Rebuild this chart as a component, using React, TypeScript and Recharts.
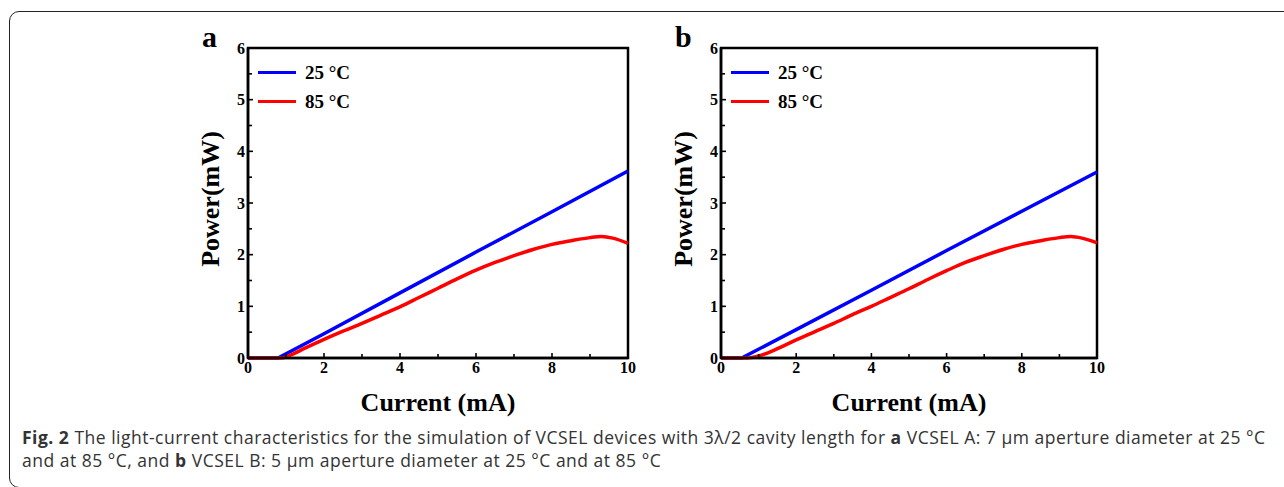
import { LineChart, Line, XAxis, YAxis, Legend, ReferenceArea } from "recharts";

// Panel a: VCSEL A, 7 µm aperture
const currentA25 = [0, 0.79, 2, 4, 6, 8, 10];
const powerA25 = [0, 0, 0.47, 1.26, 2.05, 2.83, 3.62];
const currentA85 = [0, 0.9, 1.1, 1.5, 2, 2.5, 3, 3.5, 4, 4.5, 5, 5.5, 6, 6.5, 7, 7.5, 8, 8.5, 9, 9.3, 9.6, 10];
const powerA85 = [0, 0, 0.05, 0.19, 0.36, 0.52, 0.67, 0.83, 0.99, 1.17, 1.35, 1.53, 1.7, 1.85, 1.98, 2.1, 2.2, 2.27, 2.33, 2.35, 2.32, 2.22];

// Panel b: VCSEL B, 5 µm aperture
const currentB25 = [0, 0.55, 2, 4, 6, 8, 10];
const powerB25 = [0, 0, 0.55, 1.31, 2.08, 2.84, 3.6];
const currentB85 = [0, 0.7, 1, 1.25, 1.5, 2, 2.5, 3, 3.5, 4, 4.5, 5, 5.5, 6, 6.5, 7, 7.5, 8, 8.5, 9, 9.3, 9.6, 10];
const powerB85 = [0, 0, 0.04, 0.1, 0.18, 0.35, 0.51, 0.67, 0.84, 1.0, 1.17, 1.34, 1.52, 1.69, 1.85, 1.98, 2.1, 2.2, 2.27, 2.33, 2.35, 2.32, 2.23];

const xTicks = [0, 1, 2, 3, 4, 5, 6, 7, 8, 9, 10];
const yTicks = [0, 0.5, 1, 1.5, 2, 2.5, 3, 3.5, 4, 4.5, 5, 5.5, 6];
const seriesNames = ["25 °C", "85 °C"];

const SERIF = "'Liberation Serif', 'Times New Roman', serif";
const X_GAP = 4;
const Y_GAP = 3;

const toPoints = (xs: number[], ys: number[]) => xs.map((x, i) => ({ current: x, power: ys[i] }));

const XTick = ({ x, y, payload }: any) => {
  const v = payload.value;
  const major = v % 2 === 0;
  const axisY = y - X_GAP;
  return (
    <g>
      <line x1={x} x2={x} y1={axisY} y2={axisY - (major ? 5 : 4)} stroke="#000" strokeWidth={1.6} />
      {major && (
        <text x={x} y={y} dy="0.71em" textAnchor="middle" fontFamily={SERIF} fontWeight="bold" fontSize={16} fill="#000">
          {v}
        </text>
      )}
    </g>
  );
};

const YTick = ({ x, y, payload }: any) => {
  const v = payload.value;
  const major = Number.isInteger(v);
  const axisX = x + Y_GAP;
  return (
    <g>
      <line x1={axisX} x2={axisX + (major ? 5 : 4)} y1={y} y2={y} stroke="#000" strokeWidth={1.6} />
      {major && (
        <text x={x} y={y} dy="0.36em" textAnchor="end" fontFamily={SERIF} fontWeight="bold" fontSize={16} fill="#000">
          {v}
        </text>
      )}
    </g>
  );
};

const renderLegend = ({ payload }: any) => (
  <div>
    {(payload ?? []).map((item: any) => (
      <div key={item.value} style={{ display: "flex", alignItems: "center", height: 29 }}>
        <span style={{ display: "inline-block", width: 38, height: 3.5, background: item.color, marginRight: 9 }} />
        <span style={{ fontFamily: SERIF, fontWeight: "bold", fontSize: 19, color: "#000" }}>{item.value}</span>
      </div>
    ))}
  </div>
);

type PanelProps = {
  letter: string;
  left: number;
  rightMargin: number;
  warm: { current: number; power: number }[];
  hot: { current: number; power: number }[];
};

function LIPanel({ letter, left, rightMargin, warm, hot }: PanelProps) {
  return (
    <div style={{ position: "absolute", left, top: 20 }}>
      <div
        style={{
          position: "absolute",
          left: 42,
          top: 0,
          fontFamily: SERIF,
          fontWeight: "bold",
          fontSize: 30,
          lineHeight: "34px",
        }}
      >
        {letter}
      </div>
      <LineChart width={480} height={420} margin={{ top: 28, right: rightMargin, left: 28, bottom: 10 }}>
        <XAxis
          dataKey="current"
          type="number"
          domain={[0, 10]}
          ticks={xTicks}
          interval={0}
          allowDuplicatedCategory={false}
          height={72}
          tickSize={0}
          tickMargin={X_GAP}
          tickLine={false}
          tick={<XTick />}
          stroke="#000"
          strokeWidth={2.5}
          label={{
            content: ({ viewBox }: any) => (
              <text
                x={viewBox.x + viewBox.width / 2}
                y={viewBox.y + 53}
                textAnchor="middle"
                fontFamily={SERIF}
                fontWeight="bold"
                fontSize={26}
                fill="#000"
              >
                Current (mA)
              </text>
            ),
          }}
        />
        <YAxis
          type="number"
          domain={[0, 6]}
          ticks={yTicks}
          interval={0}
          width={60}
          tickSize={0}
          tickMargin={Y_GAP}
          tickLine={false}
          tick={<YTick />}
          stroke="#000"
          strokeWidth={2.5}
          label={{
            content: ({ viewBox }: any) => {
              const cx = viewBox.x + 22;
              const cy = viewBox.y + viewBox.height / 2 - 4;
              return (
                <text
                  x={cx}
                  y={cy}
                  transform={`rotate(-90 ${cx} ${cy})`}
                  textAnchor="middle"
                  dominantBaseline="central"
                  fontFamily={SERIF}
                  fontWeight="bold"
                  fontSize={26}
                  fill="#000"
                >
                  Power(mW)
                </text>
              );
            },
          }}
        />
        {/* frame around the plot area */}
        <ReferenceArea x1={0} x2={10} y1={0} y2={6} fill="none" stroke="#000" strokeWidth={2.5} ifOverflow="visible" />
        <Legend
          content={renderLegend}
          layout="vertical"
          align="center"
          verticalAlign="middle"
          wrapperStyle={{ left: 98, top: 38, width: "auto" }}
        />
        <Line
          data={warm}
          dataKey="power"
          name={seriesNames[0]}
          type="linear"
          stroke="#0000ff"
          strokeWidth={3.5}
          dot={false}
          isAnimationActive={false}
        />
        <Line
          data={hot}
          dataKey="power"
          name={seriesNames[1]}
          type="monotone"
          stroke="#ff0000"
          strokeWidth={3.5}
          dot={false}
          isAnimationActive={false}
        />
      </LineChart>
    </div>
  );
}

export default function App() {
  return (
    <div
      style={{
        position: "absolute",
        left: 0,
        top: 0,
        width: 1284,
        height: 487,
        overflow: "hidden",
        background: "#fff",
      }}
    >
      <div
        style={{
          position: "absolute",
          left: 9,
          top: 11,
          width: 1300,
          height: 475,
          border: "1.5px solid #222",
          borderRadius: 10,
        }}
      />
      <LIPanel letter="a" left={160} rightMargin={12} warm={toPoints(currentA25, powerA25)} hot={toPoints(currentA85, powerA85)} />
      <LIPanel letter="b" left={633} rightMargin={16} warm={toPoints(currentB25, powerB25)} hot={toPoints(currentB85, powerB85)} />
      <div
        style={{
          position: "absolute",
          left: 22,
          top: 426,
          fontFamily: "'Open Sans', 'Noto Sans', sans-serif",
          fontSize: 17.5,
          letterSpacing: 0.5,
          lineHeight: "23px",
          color: "#333",
          whiteSpace: "nowrap",
        }}
      >
        <div>
          <b>Fig. 2</b> The light-current characteristics for the simulation of VCSEL devices with 3λ/2 cavity length for{" "}
          <b>a</b> VCSEL A: 7 μm aperture diameter at 25 °C
        </div>
        <div>
          and at 85 °C, and <b>b</b> VCSEL B: 5 μm aperture diameter at 25 °C and at 85 °C
        </div>
      </div>
    </div>
  );
}
